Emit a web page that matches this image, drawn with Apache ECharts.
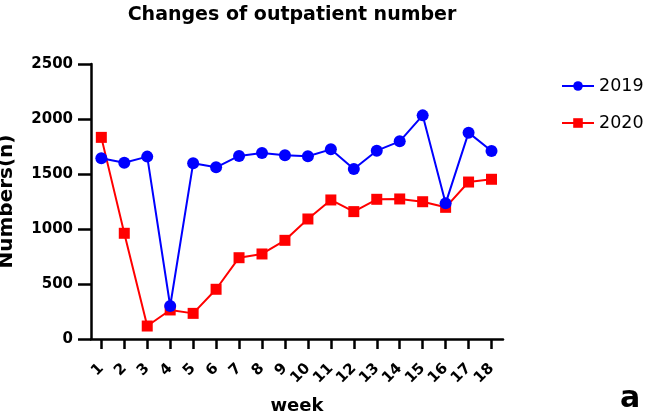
<!DOCTYPE html>
<html><head><meta charset="utf-8">
<script src="https://cdn.jsdelivr.net/npm/echarts@6/dist/echarts.min.js"></script>
<style>html,body{margin:0;padding:0;background:#fff}#c{width:653px;height:420px}</style>
</head><body><div id="c"></div>
<script>
const weeks = [1,2,3,4,5,6,7,8,9,10,11,12,13,14,15,16,17,18];
const s2019 = [1643,1603,1658,300,1597,1561,1664,1691,1670,1662,1724,1545,1712,1797,2033,1233,1876,1709];
const s2020 = [1833,961,118,264,233,452,739,773,897,1091,1264,1158,1270,1273,1248,1197,1427,1452];
const yTicks = [0,500,1000,1500,2000,2500];

const F = 'DejaVu Sans, sans-serif';
const pairs = arr => weeks.map((w,i)=>[w, arr[i]]);
const chart = echarts.init(document.getElementById('c'));
chart.setOption({
  animation:false,
  title:{text:'Changes of outpatient number', left:287, top:1, textAlign:'center',
    textStyle:{fontFamily:F, fontWeight:'bold', fontSize:19, color:'#000'}},
  legend:{orient:'vertical', left:556, top:72, itemGap:19, itemWidth:32, itemHeight:12,
    textStyle:{fontFamily:F, fontSize:17.5, color:'#000'},
    data:['2019','2020']},
  grid:{left:91, right:150, top:64, bottom:81, containLabel:false, outerBoundsMode:'none'},
  xAxis:{type:'value', min:0.55, max:18.5,
    name:'week', nameLocation:'middle', nameGap:58,
    nameTextStyle:{fontFamily:F, fontWeight:'bold', fontSize:18, color:'#000'},
    splitLine:{show:false},
    axisLine:{show:true, onZero:false, lineStyle:{color:'#000', width:2.5}},
    axisTick:{show:true, customValues:weeks, length:10, lineStyle:{color:'#000', width:2.5}},
    axisLabel:{customValues:weeks, rotate:45, margin:27, fontFamily:F, fontWeight:'bold', fontSize:15, color:'#000',
      showMinLabel:true, showMaxLabel:true}},
  yAxis:{type:'value', min:yTicks[0], max:yTicks[yTicks.length-1], interval:500,
    name:'Numbers(n)', nameLocation:'middle', nameGap:74,
    nameTextStyle:{fontFamily:F, fontWeight:'bold', fontSize:20, color:'#000'},
    splitLine:{show:false},
    axisLine:{show:true, lineStyle:{color:'#000', width:2.5}},
    axisTick:{show:true, length:13, lineStyle:{color:'#000', width:2.5}},
    axisLabel:{margin:18, formatter:v=>String(v), fontFamily:F, fontWeight:'bold', fontSize:15, color:'#000'}},
  graphic:[{type:'text', left:620, top:384, style:{text:'a', font:'bold 30px '+F, fill:'#000'}}],
  series:[
    {name:'2019', type:'line', data:pairs(s2019), symbol:'circle', symbolSize:12,
      itemStyle:{color:'#0000ff'}, lineStyle:{color:'#0000ff', width:2}, z:3},
    {name:'2020', type:'line', data:pairs(s2020), symbol:'rect', symbolSize:11,
      itemStyle:{color:'#ff0000'}, lineStyle:{color:'#ff0000', width:2}, z:2}
  ]
});
</script></body></html>
